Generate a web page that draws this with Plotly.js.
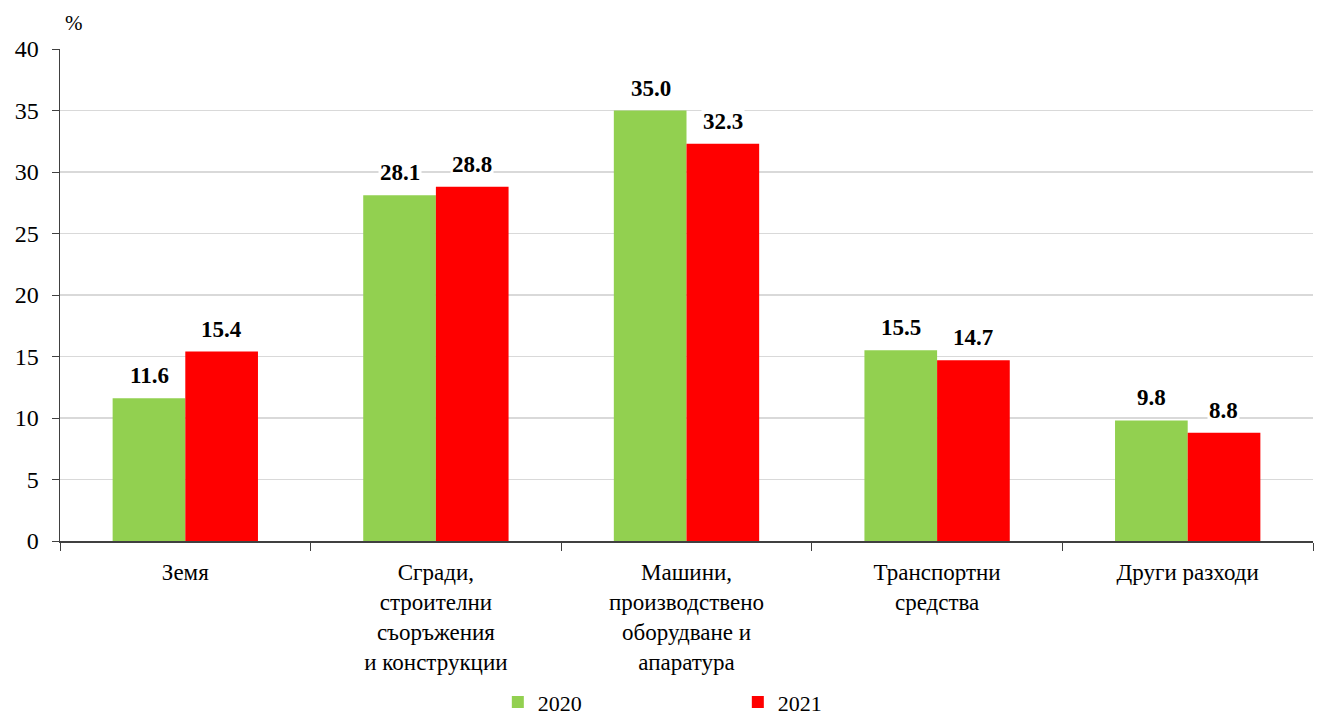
<!DOCTYPE html>
<html><head><meta charset="utf-8">
<script src="https://cdn.plot.ly/plotly-3.0.1.min.js"></script>
<style>html,body{margin:0;padding:0;background:#fff}</style>
</head><body>
<div id="chart" style="width:1317px;height:718px"></div>
<script>
const categories = ["Земя", "Сгради,<br>строителни<br>съоръжения<br>и конструкции", "Машини,<br>производствено<br>оборудване и<br>апаратура", "Транспортни<br>средства", "Други разходи"];
const series2020 = [11.6, 28.1, 35.0, 15.5, 9.8];
const series2021 = [15.4, 28.8, 32.3, 14.7, 8.8];
const seriesNames = ["2020", "2021"];
const colors = ["#92D050", "#FF0000"];

const font = "'Liberation Serif', Tinos, 'Times New Roman', 'DejaVu Serif', serif";
const traces = [series2020, series2021].map((vals, i) => ({
  type: "bar", x: categories, y: vals, name: seriesNames[i],
  marker: {color: colors[i]}, hoverinfo: "none"
}));

const annotations = [];
[series2020, series2021].forEach((vals, i) => {
  vals.forEach((v, j) => {
    annotations.push({
      x: categories[j], y: v, xref: "x", yref: "y",
      text: "<b>" + v.toFixed(1) + "</b>", showarrow: false,
      xshift: i === 0 ? -36 : 36, yanchor: "bottom", yshift: 8,
      bgcolor: "#ffffff", font: {family: font, size: 23, color: "#000"}
    });
  });
});
annotations.push({xref: "paper", yref: "paper", x: 0.011, y: 1.025, xanchor: "center", yanchor: "bottom",
  text: "%", showarrow: false, font: {family: font, size: 21, color: "#000"}});

const layout = {
  width: 1317, height: 718,
  margin: {l: 60, r: 4, t: 49, b: 177, autoexpand: false},
  paper_bgcolor: "#fff", plot_bgcolor: "#fff",
  barmode: "group", bargap: 0.42, bargroupgap: 0,
  font: {family: font, color: "#000"},
  xaxis: {type: "category", tickson: "boundaries", ticks: "outside", ticklen: 8, tickcolor: "#404040",
    showline: true, linecolor: "#404040", linewidth: 1.5, tickfont: {family: font, size: 23, color: "#000"},
    ticklabelstandoff: 10, showgrid: false, automargin: false},
  yaxis: {range: [0, 40], dtick: 5, ticks: "outside", ticklen: 7, tickcolor: "#404040",
    showline: true, linecolor: "#404040", linewidth: 1.5, gridcolor: "#d9d9d9", gridwidth: 1.5,
    ticklabelstandoff: 8, tickfont: {family: font, size: 24, color: "#000"}, zeroline: false, automargin: false},
  legend: {orientation: "h", xref: "container", yref: "container", x: 0.378, xanchor: "left", y: 0.022, yanchor: "middle",
    font: {family: font, size: 22, color: "#000"}, entrywidth: 195, entrywidthmode: "pixels"},
  annotations: annotations,
  showlegend: true
};
Plotly.newPlot("chart", traces, layout, {staticPlot: true});
</script>
</body></html>
